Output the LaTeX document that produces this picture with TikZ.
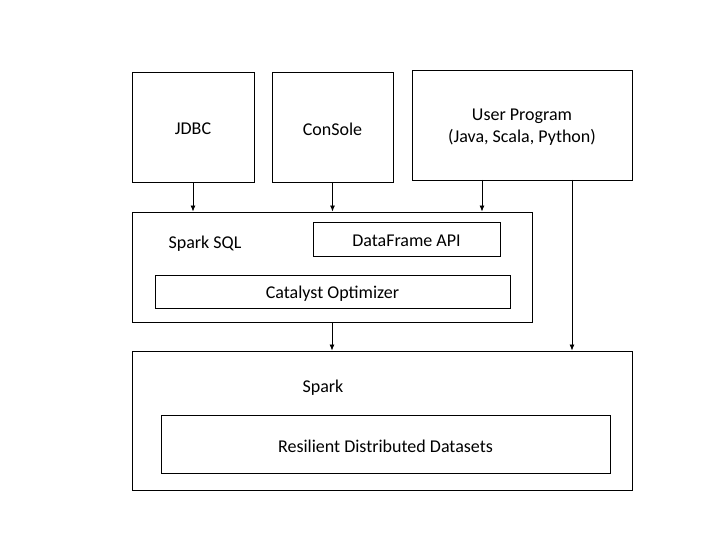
\documentclass[tikz,border=0pt]{standalone}
\usepackage{fontspec}
\setmainfont{Carlito}
\usetikzlibrary{arrows.meta,calc}
\begin{document}
\begin{tikzpicture}[x=1pt,y=-1pt,
  box/.style={draw=black,line width=0.9pt,rectangle,inner sep=0pt},
  arr/.style={line width=0.8pt,-{Latex[length=6pt,width=5pt]}},
  lbl/.style={font=\fontsize{18}{21.5}\selectfont,inner sep=0pt,align=center,yshift=-2pt}]
\useasboundingbox (0,0) rectangle (720,540);
\node[box,minimum width=122,minimum height=110] (jdbc) at (193,127) {};
\node[box,minimum width=121,minimum height=110] (console) at (332.5,127) {};
\node[box,minimum width=220,minimum height=110] (user) at (522,125) {};
\node[box,minimum width=400,minimum height=110] (sql) at (332,267) {};
\node[box,minimum width=187,minimum height=34] (df) at (406.5,239) {};
\node[box,minimum width=355,minimum height=33] (cat) at (332.5,291.5) {};
\node[box,minimum width=500,minimum height=139] (spark) at (382,420.5) {};
\node[box,minimum width=449,minimum height=58] (rdd) at (385.5,444) {};
\node[lbl] (jdbct) at (jdbc.center) {JDBC};
\node[lbl] (consolet) at (console.center) {ConSole};
\node[lbl] (usert) at (user.center) {User Program\\(Java, Scala, Python)};
\node[lbl] (dft) at (df.center) {DataFrame API};
\node[lbl] (catt) at (cat.center) {Catalyst Optimizer};
\node[lbl] (rddt) at (rdd.center) {Resilient Distributed Datasets};
\node[lbl] (sqllbl) at (205,242) {Spark SQL};
\node[lbl] (sparklbl) at (323,386) {Spark};
\coordinate (u1) at (482,180);
\coordinate (u2) at (572,180);
\draw[arr] (jdbc.south) -- (jdbc.south |- sql.north);
\draw[arr] (console.south) -- (console.south |- sql.north);
\draw[arr] (u1) -- (u1 |- sql.north);
\draw[arr] (u2) -- (u2 |- spark.north);
\draw[arr] (sql.south) -- (sql.south |- spark.north);
\end{tikzpicture}
\end{document}
